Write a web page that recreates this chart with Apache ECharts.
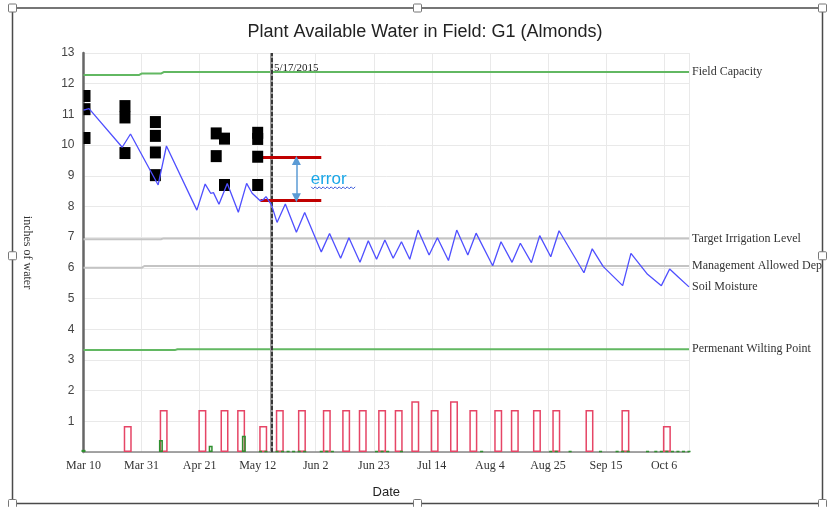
<!DOCTYPE html>
<html>
<head>
<meta charset="utf-8">
<script src="https://cdn.jsdelivr.net/npm/echarts@6/dist/echarts.min.js"></script>
<style>
  html, body { margin: 0; padding: 0; background: #fff; }
  #main { width: 828px; height: 507px; }
</style>
</head>
<body>
<div id="main"></div>
<script>
// all x values are days since Mar 10, 2015
var START = Date.UTC(2015, 2, 10);
var LAST_DAY = 219;
var MONTHS = ['Jan', 'Feb', 'Mar', 'Apr', 'May', 'Jun', 'Jul', 'Aug', 'Sep', 'Oct', 'Nov', 'Dec'];

// soil moisture (inches of water)
var smDays = [0, 2, 14, 17, 27, 30, 41, 44, 46, 47, 49, 52, 56, 59, 61, 64, 65, 66, 68, 70, 73, 77, 80, 86, 89, 93, 96, 100, 103, 106, 109, 112, 115, 118, 121, 125, 128, 132, 135, 139, 142, 148, 151, 155, 158, 162, 165, 169, 172, 181, 184, 188, 195, 198, 204, 209, 212, 215, 219];
var smValues = [11.14, 11.19, 9.93, 10.36, 8.70, 9.97, 7.88, 8.73, 8.43, 8.45, 8.07, 8.75, 7.81, 8.75, 8.43, 8.18, 8.22, 8.32, 8.05, 7.48, 8.08, 7.16, 7.80, 6.52, 7.12, 6.31, 6.98, 6.18, 6.88, 6.28, 6.91, 6.31, 6.85, 6.28, 7.23, 6.42, 6.98, 6.24, 7.23, 6.42, 7.13, 6.07, 6.85, 6.18, 6.80, 6.17, 7.05, 6.36, 7.21, 5.84, 6.62, 6.04, 5.42, 6.47, 5.79, 5.42, 5.96, 5.71, 5.38];

// reference levels
var fcDays = [0, 20, 21, 28, 29, LAST_DAY];
var fcValues = [12.28, 12.28, 12.33, 12.33, 12.38, 12.38];
var tilDays = [0, 28, 29, LAST_DAY];
var tilValues = [6.93, 6.93, 6.96, 6.96];
var madDays = [0, 21, 22, LAST_DAY];
var madValues = [6.0, 6.0, 6.06, 6.06];
var pwpDays = [0, 33, 34, LAST_DAY];
var pwpValues = [3.32, 3.32, 3.35, 3.35];

// measured readings (black squares)
var measDays = [0, 0, 0, 15, 15, 15, 26, 26, 26, 26, 48, 48, 51, 51, 63, 63, 63, 63];
var measValues = [11.6, 11.17, 10.23, 11.27, 10.9, 9.74, 10.75, 10.3, 9.76, 9.02, 10.38, 9.64, 10.21, 8.7, 10.4, 10.2, 9.62, 8.7];

// irrigation (hollow red bars)
var irrDays = [16, 29, 43, 51, 57, 65, 71, 79, 88, 95, 101, 108, 114, 120, 127, 134, 141, 150, 156, 164, 171, 183, 196, 211];
var irrValues = [0.85, 1.37, 1.37, 1.37, 1.37, 0.85, 1.37, 1.37, 1.37, 1.37, 1.37, 1.37, 1.37, 1.65, 1.37, 1.65, 1.37, 1.37, 1.37, 1.37, 1.37, 1.37, 1.37, 0.85];

// rain (green bars)
var rainDays = [0, 28, 46, 58, 64, 66, 68, 70, 72, 74, 76, 78, 80, 86, 88, 90, 106, 108, 110, 115, 144, 169, 171, 176, 187, 193, 195, 197, 204, 207, 209, 211, 213, 215, 217, 219];
var rainValues = [0.07, 0.39, 0.2, 0.53, 0.03, 0.03, 0.03, 0.03, 0.03, 0.03, 0.03, 0.03, 0.03, 0.03, 0.03, 0.03, 0.03, 0.03, 0.03, 0.03, 0.03, 0.03, 0.03, 0.03, 0.03, 0.03, 0.03, 0.03, 0.03, 0.03, 0.03, 0.03, 0.03, 0.03, 0.03, 0.03];

// annotations
var markDay = 68;          // 5/17/2015
var errorTop = 9.6;
var errorBottom = 8.2;
var errorFrom = 64;
var errorTo = 86;
var arrowDay = 77;

function zip(xs, ys) {
    return xs.map(function (x, i) { return [x, ys[i]]; });
}
function dayLabel(d) {
    var t = new Date(START + d * 86400000);
    return MONTHS[t.getUTCMonth()] + ' ' + t.getUTCDate();
}

var serif = 'Liberation Serif';
var sans = 'Liberation Sans';

function levelLine(name, days, values, color, extraLabel) {
    var label = {
        show: true,
        formatter: name,
        color: '#333',
        fontFamily: serif,
        fontSize: 12,
        distance: 3
    };
    if (extraLabel) {
        for (var k in extraLabel) label[k] = extraLabel[k];
    }
    return {
        name: name,
        type: 'line',
        data: zip(days, values),
        symbol: 'none',
        silent: true,
        lineStyle: { color: color, width: 2 },
        endLabel: label,
        z: 2
    };
}

var chart = echarts.init(document.getElementById('main'));

var option = {
    animation: false,
    title: {
        text: 'Plant Available Water in Field: G1 (Almonds)',
        left: 420,
        textAlign: 'center',
        top: 18,
        textStyle: { fontFamily: sans, fontSize: 18, fontWeight: 'normal', color: '#222' }
    },
    grid: { left: 83.5, right: 139, top: 53, bottom: 55 },
    xAxis: [{
        type: 'value',
        min: 0,
        max: LAST_DAY,
        interval: 21,
        name: 'Date',
        nameLocation: 'middle',
        nameGap: 34,
        nameTextStyle: { fontFamily: sans, fontSize: 13, color: '#222' },
        axisLine: { lineStyle: { color: '#888', width: 1.5 } },
        axisTick: { show: false },
        axisLabel: {
            formatter: dayLabel,
            showMaxLabel: false,
            fontFamily: serif,
            fontSize: 12,
            color: '#333',
            margin: 8
        },
        splitLine: { lineStyle: { color: '#e9e9e9' } }
    }, {
        type: 'value',
        min: 0,
        max: LAST_DAY,
        show: false
    }],
    yAxis: {
        type: 'value',
        min: 0,
        max: 13,
        interval: 1,
        name: 'inches of water',
        nameLocation: 'middle',
        nameRotate: -90,
        nameGap: 50,
        nameTextStyle: { fontFamily: serif, fontSize: 12, color: '#333' },
        axisLine: { show: true, lineStyle: { color: '#666', width: 2.5 } },
        axisTick: { show: false },
        axisLabel: {
            formatter: function (v) { return v === 0 ? '' : v; },
            fontFamily: sans,
            fontSize: 12,
            color: '#444',
            margin: 9
        },
        splitLine: { lineStyle: { color: '#e9e9e9' } }
    },
    series: [
        levelLine('Field Capacity', fcDays, fcValues, '#62b862'),
        levelLine('Target Irrigation Level', tilDays, tilValues, '#c4c4c4'),
        levelLine('Management Allowed Depletion', madDays, madValues, '#c4c4c4',
            { width: 132, overflow: 'truncate', ellipsis: '' }),
        levelLine('Permenant Wilting Point', pwpDays, pwpValues, '#62b862'),
        {
            name: 'Irrigation',
            type: 'bar',
            data: zip(irrDays, irrValues),
            barWidth: 8,
            silent: true,
            itemStyle: { color: 'rgba(255,255,255,0)', borderColor: '#e64566', borderWidth: 1.5 },
            z: 3
        },
        {
            name: 'Rain',
            type: 'bar',
            xAxisIndex: 1,
            data: zip(rainDays, rainValues),
            barWidth: 4,
            silent: true,
            itemStyle: { color: 'rgba(255,255,255,0)', borderColor: '#2f8f2f', borderWidth: 1.5 },
            z: 4
        },
        {
            name: 'Measured',
            type: 'scatter',
            data: measDays.map(function (d, i) {
                var item = { value: [d, measValues[i]] };
                if (d === 0) {
                    item.symbolSize = [7, 12];
                    item.symbolOffset = [3.5, 0];
                }
                return item;
            }),
            symbol: 'rect',
            symbolSize: [11, 12],
            silent: true,
            itemStyle: { color: '#000', opacity: 1 },
            z: 5
        },
        {
            name: 'Soil Moisture',
            type: 'line',
            data: zip(smDays, smValues),
            symbol: 'none',
            silent: true,
            lineStyle: { color: '#4f4fff', width: 1.3 },
            endLabel: {
                show: true,
                formatter: 'Soil Moisture',
                color: '#333',
                fontFamily: serif,
                fontSize: 12,
                distance: 3
            },
            z: 6,
            markLine: {
                silent: true,
                symbol: ['none', 'none'],
                animation: false,
                label: { show: false },
                data: [
                    { xAxis: markDay, lineStyle: { color: '#9a9a9a', type: 'solid', width: 3 } },
                    { xAxis: markDay, lineStyle: { color: '#222', type: [4, 2], width: 1.6 } },
                    [
                        { coord: [errorFrom, errorTop], lineStyle: { color: '#c00000', type: 'solid', width: 3 } },
                        { coord: [errorTo, errorTop] }
                    ],
                    [
                        { coord: [errorFrom, errorBottom], lineStyle: { color: '#c00000', type: 'solid', width: 3 } },
                        { coord: [errorTo, errorBottom] }
                    ],
                    [
                        { coord: [arrowDay, errorTop - 0.1], symbol: 'triangle', symbolSize: [9, 9],
                          lineStyle: { color: '#5b9bd5', type: 'solid', width: 1.5 } },
                        { coord: [arrowDay, errorBottom + 0.08], symbol: 'triangle', symbolSize: [9, 9] }
                    ]
                ]
            },
            markPoint: {
                silent: true,
                symbol: 'rect',
                symbolSize: 1,
                itemStyle: { color: 'rgba(0,0,0,0)' },
                data: [
                    {
                        coord: [markDay, 12.5],
                        label: { show: true, position: 'right', distance: 2, formatter: '5/17/2015',
                                 fontFamily: serif, fontSize: 11, color: '#222' }
                    },
                    {
                        coord: [82, 8.9],
                        label: { show: true, position: 'right', distance: 0, formatter: 'error',
                                 fontFamily: sans, fontSize: 17, color: '#1aa7e8' }
                    }
                ]
            }
        }
    ]
};

chart.setOption(option);

// frame with selection handles and the squiggle under "error"
var fx0 = 12.5, fy0 = 8, fx1 = 822.5, fy1 = 503.5;
var handles = [
    [fx0, fy0], [(fx0 + fx1) / 2, fy0], [fx1, fy0],
    [fx0, (fy0 + fy1) / 2], [fx1, (fy0 + fy1) / 2],
    [fx0, fy1], [(fx0 + fx1) / 2, fy1], [fx1, fy1]
];
var graphics = [{
    type: 'rect',
    shape: { x: fx0, y: fy0, width: fx1 - fx0, height: fy1 - fy0 },
    style: { fill: 'none', stroke: '#4a4a4a', lineWidth: 1.5 },
    silent: true
}];
handles.forEach(function (h) {
    graphics.push({
        type: 'rect',
        shape: { x: h[0] - 4, y: h[1] - 4, width: 8, height: 8, r: 1 },
        style: { fill: '#fff', stroke: '#777', lineWidth: 1 },
        silent: true,
        z: 10
    });
});
var ep = chart.convertToPixel({ gridIndex: 0 }, [82, 8.9]);
var wave = [];
for (var i = 0; i <= 22; i++) {
    wave.push([ep[0] + 1 + i * 2, ep[1] + 8 + (i % 2 === 0 ? 0 : 2)]);
}
graphics.push({
    type: 'polyline',
    shape: { points: wave },
    style: { stroke: '#3b5bdb', lineWidth: 1, fill: 'none' },
    silent: true
});
chart.setOption({ graphic: graphics });

window.onresize = function () {
    chart.resize();
};
</script>
</body>
</html>
